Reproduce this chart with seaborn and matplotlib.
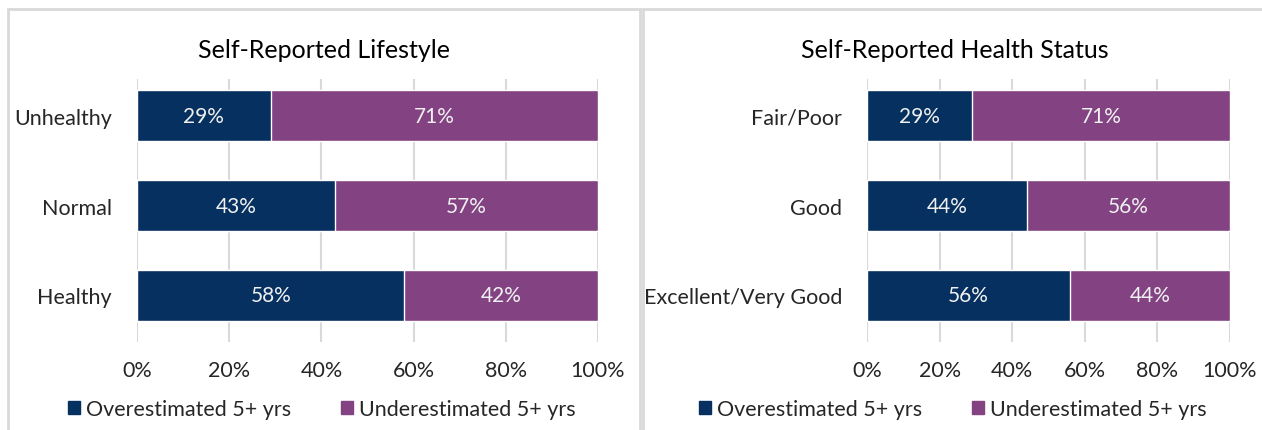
import matplotlib
matplotlib.use("Agg")
import matplotlib.pyplot as plt
import seaborn as sns
import pandas as pd
from matplotlib.patches import Rectangle, Patch
from matplotlib.ticker import PercentFormatter

# data
lifestyle_cats = ["Unhealthy", "Normal", "Healthy"]
lifestyle_over = [29, 43, 58]
lifestyle_under = [71, 57, 42]

health_cats = ["Fair/Poor", "Good", "Excellent/Very Good"]
health_over = [29, 44, 56]
health_under = [71, 56, 44]

titles = ["Self-Reported Lifestyle", "Self-Reported Health Status"]
series_names = ["Overestimated 5+ yrs", "Underestimated 5+ yrs"]

navy = "#06305f"
purple = "#834383"

sns.set_style("white")
plt.rcParams["font.family"] = ["Lato", "DejaVu Sans"]

W, H = 1262, 431
fig = plt.figure(figsize=(W / 100, H / 100), dpi=100)

# pixel box -> figure fraction
def px(x0, y0, x1, y1):
    return [x0 / W, 1 - y1 / H, (x1 - x0) / W, (y1 - y0) / H]

# panel frames
for x0, x1 in [(8, 640), (643, 1270)]:
    fig.patches.append(Rectangle((x0 / W, -0.1), (x1 - x0) / W, 1 - 10 / H + 0.1,
                                 transform=fig.transFigure, fill=False,
                                 edgecolor="#d9d9d9", linewidth=2, zorder=0))

panels = [
    (lifestyle_cats, lifestyle_over, lifestyle_under, px(137, 80, 598, 343), 324, 322),
    (health_cats, health_over, health_under, px(867, 80, 1230, 343), 955, 953),
]

for i, (cats, over, under, rect, title_x, legend_x) in enumerate(panels):
    ax = fig.add_axes(rect)
    df = pd.DataFrame({"cat": cats, "over": over, "under": under})
    df["total"] = df["over"] + df["under"]
    sns.barplot(data=df, x="total", y="cat", color=purple, width=0.567,
                saturation=1, ax=ax, zorder=2)
    sns.barplot(data=df, x="over", y="cat", color=navy, width=0.567,
                saturation=1, ax=ax, zorder=3)
    for j, row in df.iterrows():
        ax.text(row["over"] / 2, j, f"{row['over']}%", ha="center", va="center",
                color="#f0f0f0", fontsize=15, zorder=4)
        ax.text(row["over"] + row["under"] / 2, j, f"{row['under']}%", ha="center",
                va="center", color="#f0f0f0", fontsize=15, zorder=4)
    ax.set_xlim(0, 100)
    ax.set_ylim(2.517, -0.406)
    ax.set_xticks(range(0, 101, 20))
    ax.xaxis.set_major_formatter(PercentFormatter(decimals=0))
    ax.grid(axis="x", color="#d9d9d9", linewidth=1.5, zorder=0)
    ax.set_axisbelow(True)
    for s in ax.spines.values():
        s.set_visible(False)
    ax.tick_params(axis="both", length=0, labelsize=15.5, labelcolor="#262626")
    ax.tick_params(axis="x", pad=13)
    ax.tick_params(axis="y", pad=18)
    ax.set_xlabel("")
    ax.set_ylabel("")

    # title is centred on the whole panel, not on the axes
    fig.text(title_x / W, 1 - 50 / H, titles[i], ha="center", va="center",
             fontsize=18, color="black")

    handles = [Patch(color=navy), Patch(color=purple)]
    fig.legend(handles, series_names, loc="center", ncol=2,
               bbox_to_anchor=(legend_x / W, 1 - 410 / H),
               frameon=False, fontsize=15.5, handlelength=0.55, handleheight=0.55,
               handletextpad=0.3, columnspacing=2.3, labelcolor="#262626")

fig.savefig("out.png", dpi=100)
